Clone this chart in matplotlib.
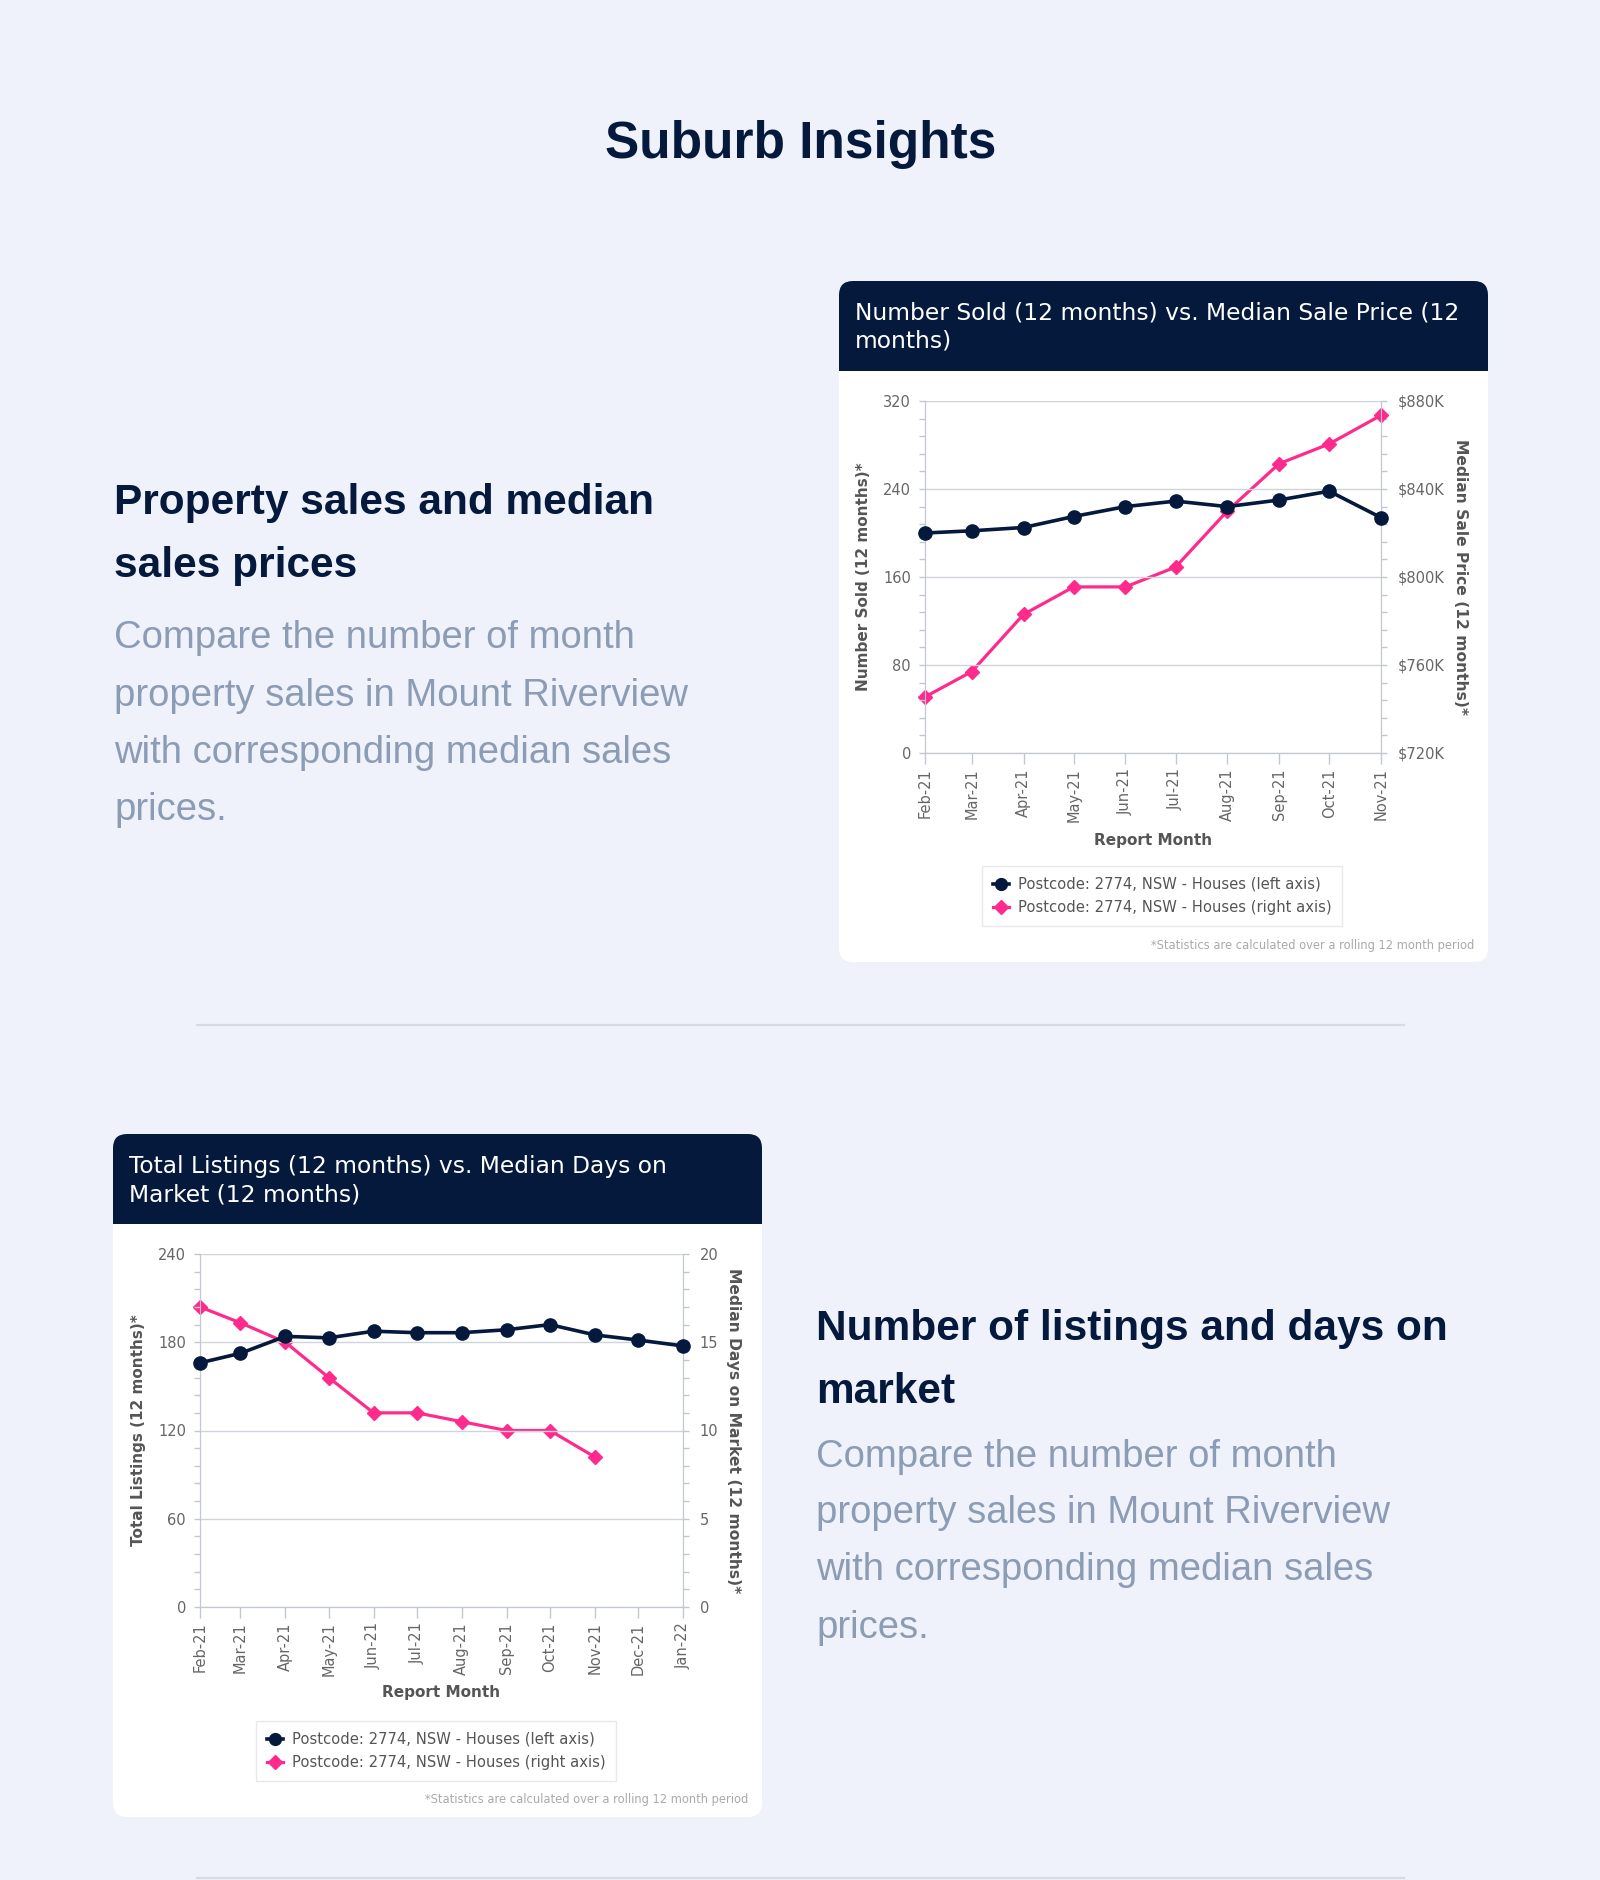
import matplotlib
matplotlib.use("Agg")
import matplotlib.pyplot as plt
import matplotlib.dates as mdates
from matplotlib.patches import FancyBboxPatch, Rectangle
from matplotlib.ticker import MultipleLocator, FuncFormatter
from matplotlib.lines import Line2D
import pandas as pd

# ---- data ----
months_sold = ["Feb-21", "Mar-21", "Apr-21", "May-21", "Jun-21", "Jul-21",
               "Aug-21", "Sep-21", "Oct-21", "Nov-21"]
number_sold = [200, 202, 205, 215, 224, 229, 224, 230, 238, 214]
median_price_k = [745.5, 757, 783, 795.5, 795.5, 804.5, 830, 851.5, 860.5, 873.5]

months_list = ["Feb-21", "Mar-21", "Apr-21", "May-21", "Jun-21", "Jul-21",
               "Aug-21", "Sep-21", "Oct-21", "Nov-21", "Dec-21", "Jan-22"]
total_listings = [166, 172.5, 184, 183, 187.5, 186.5, 186.5, 188.5, 192, 185, 181.5, 177.5]
median_days = [17, 16.1, 15, 13, 11, 11, 10.5, 10, 10, 8.5]

series_label_left = "Postcode: 2774, NSW - Houses (left axis)"
series_label_right = "Postcode: 2774, NSW - Houses (right axis)"
footnote = "*Statistics are calculated over a rolling 12 month period"
body_lines = ["Compare the number of month",
              "property sales in Mount Riverview",
              "with corresponding median sales",
              "prices."]

NAVY = "#04193c"
PINK = "#ff2b8c"
BG = "#eff2fa"
GREY_TXT = "#8c9cb4"
AX_GREY = "#c3c7d0"

W, H = 1600, 1880
fig = plt.figure(figsize=(16, 18.8), dpi=100, facecolor=BG)

# background layer in pixel coordinates (y down)
bg = fig.add_axes([0, 0, 1, 1])
bg.set_xlim(0, W)
bg.set_ylim(H, 0)
bg.axis("off")

PAGE_FONT = "Liberation Sans"

bg.text(801, 158, "Suburb Insights", ha="center", va="baseline",
        fontsize=37, fontweight="bold", color=NAVY, family=PAGE_FONT)

# dividers
bg.plot([197, 1404], [1025, 1025], color="#d6dae2", lw=1.6)
bg.plot([197, 1404], [1878, 1878], color="#d6dae2", lw=1.6)

# left/right text blocks
def text_block(x, head, head_y, body_y):
    for line, y in zip(head, head_y):
        bg.text(x, y, line, ha="left", va="baseline", fontsize=30.5,
                fontweight="bold", color=NAVY, family=PAGE_FONT)
    for line, y in zip(body_lines, body_y):
        bg.text(x, y, line, ha="left", va="baseline", fontsize=27.5,
                color=GREY_TXT, family=PAGE_FONT)

text_block(114, ["Property sales and median", "sales prices"],
           [514, 577], [648, 706, 763, 820])
text_block(816, ["Number of listings and days on", "market"],
           [1340, 1403], [1467, 1523, 1580, 1638])


def card(x0, y0, x1, y1, head_bottom, title_lines, title_y):
    bg.add_patch(FancyBboxPatch((x0, y0), x1 - x0, y1 - y0,
                                boxstyle="round,pad=0,rounding_size=14",
                                fc="white", ec="none"))
    bg.add_patch(FancyBboxPatch((x0, y0), x1 - x0, head_bottom - y0,
                                boxstyle="round,pad=0,rounding_size=14",
                                fc=NAVY, ec="none"))
    bg.add_patch(Rectangle((x0, head_bottom - 20), x1 - x0, 20,
                           fc=NAVY, ec="none"))
    for line, y in zip(title_lines, title_y):
        bg.text(x0 + 16, y, line, ha="left", va="baseline", fontsize=16.8,
                color="white", family="DejaVu Sans")


card(839, 281, 1488, 962, 371,
     ["Number Sold (12 months) vs. Median Sale Price (12", "months)"], [319, 347])
card(113, 1134, 762, 1817, 1224,
     ["Total Listings (12 months) vs. Median Days on", "Market (12 months)"], [1173, 1201])


def dual_chart(px, months, left_vals, right_vals, left_lim, left_major, left_minor,
               right_lim, right_major, right_minor, right_fmt,
               left_label, right_label, ylab_x, xlab_y, legend_c, foot_xy):
    x0, y0, x1, y1 = px
    ax = fig.add_axes([x0 / W, 1 - y1 / H, (x1 - x0) / W, (y1 - y0) / H])
    ax2 = ax.twinx()
    dates = mdates.date2num(pd.to_datetime(months, format="%b-%y"))

    ax2.plot(dates[:len(right_vals)], right_vals, color=PINK, lw=2.3,
             marker="D", ms=7.5, zorder=3, clip_on=False)
    ax.plot(dates[:len(left_vals)], left_vals, color=NAVY, lw=2.6,
            marker="o", ms=9.5, zorder=4, clip_on=False)
    ax.set_zorder(ax2.get_zorder() + 1)
    ax.patch.set_visible(False)
    ax2.patch.set_facecolor("white")

    ax.set_xlim(dates[0], dates[-1])
    ax.set_xticks(dates)
    ax.set_xticklabels(months, rotation=90, fontsize=10.5, color="#666666")
    ax.set_ylim(*left_lim)
    ax.yaxis.set_major_locator(MultipleLocator(left_major))
    ax.yaxis.set_minor_locator(MultipleLocator(left_minor))
    ax2.set_ylim(*right_lim)
    ax2.yaxis.set_major_locator(MultipleLocator(right_major))
    ax2.yaxis.set_minor_locator(MultipleLocator(right_minor))
    ax2.yaxis.set_major_formatter(FuncFormatter(right_fmt))

    ax.grid(axis="y", color="#cfd3db", lw=1)
    ax.set_axisbelow(True)
    for a in (ax, ax2):
        for s in a.spines.values():
            s.set_color(AX_GREY)
        a.spines["top"].set_visible(False)
    ax.tick_params(axis="y", which="both", length=4, width=1, color=AX_GREY,
                   labelsize=10.5, labelcolor="#666666", pad=6)
    ax2.tick_params(axis="y", which="both", length=4, width=1, color=AX_GREY,
                    labelsize=10.5, labelcolor="#666666", pad=8)
    ax.tick_params(axis="x", length=8, width=1, color=AX_GREY, pad=3)

    lx, rx = ylab_x
    cy = (y0 + y1) / 2
    bg.text(lx, cy, left_label, rotation=90, ha="center", va="center",
            fontsize=11, fontweight="bold", color="#555555", family="DejaVu Sans")
    bg.text(rx, cy, right_label, rotation=270, ha="center", va="center",
            fontsize=11.2, fontweight="bold", color="#555555", family="DejaVu Sans")
    bg.text((x0 + x1) / 2, xlab_y, "Report Month", ha="center", va="center",
            fontsize=11, fontweight="bold", color="#555555", family="DejaVu Sans")

    handles = [Line2D([], [], color=NAVY, lw=2.6, marker="o", ms=8.5),
               Line2D([], [], color=PINK, lw=2.3, marker="D", ms=7.5)]
    fig.legend(handles, [series_label_left, series_label_right],
               loc="center", bbox_to_anchor=(legend_c[0] / W, 1 - legend_c[1] / H),
               fontsize=10.6, frameon=True, fancybox=False, edgecolor="#e2e4e8",
               labelcolor="#555555", handlelength=1.1, handletextpad=0.6,
               borderpad=0.75, labelspacing=0.55)
    bg.text(foot_xy[0], foot_xy[1], footnote, ha="right", va="center",
            fontsize=8.3, color="#aaaaaa", family="DejaVu Sans")
    return ax, ax2


dual_chart((925, 401, 1381, 753), months_sold, number_sold, median_price_k,
           (0, 320), 80, 16, (720, 880), 40, 8, lambda v, p: f"${v:.0f}K",
           "Number Sold (12 months)*", "Median Sale Price (12 months)*",
           (864, 1460), 840, (1162, 896), (1474, 946))

dual_chart((200, 1254, 683, 1607), months_list, total_listings, median_days,
           (0, 240), 60, 12, (0, 20), 5, 1, lambda v, p: f"{v:.0f}",
           "Total Listings (12 months)*", "Median Days on Market (12 months)*",
           (139, 734), 1693, (436, 1751), (748, 1800))

fig.savefig("out.png", dpi=100, facecolor=BG)
